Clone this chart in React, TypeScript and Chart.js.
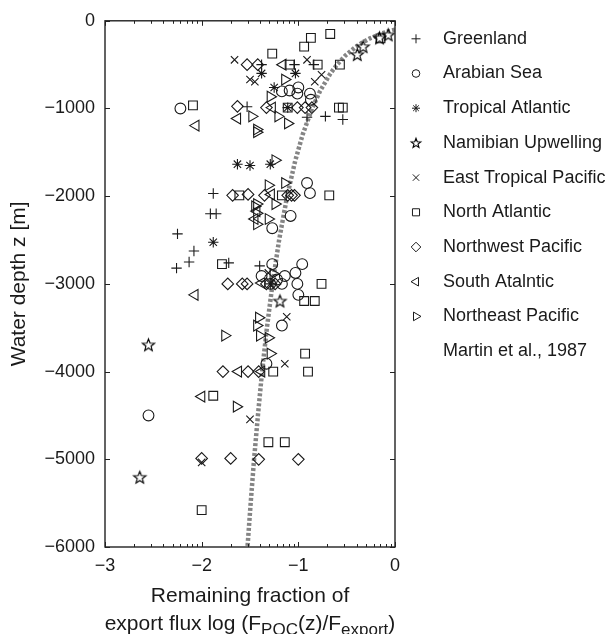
import React, { useEffect, useRef } from 'react';
import { Chart, registerables } from 'chart.js';
import { drawPoint } from 'chart.js/helpers';

Chart.register(...registerables);

type Pt = [number, number];

// x = log10(F_POC(z)/F_export), y = water depth z [m]
const greenland: Pt[] = [
  [-1.38, -500], [-1.04, -500], [-0.84, -500], [-1.53, -980], [-0.91, -1100], [-0.72, -1090],
  [-0.54, -1125], [-1.88, -1970], [-1.91, -2200], [-1.85, -2200], [-2.25, -2430], [-2.08, -2625],
  [-2.13, -2750], [-2.26, -2820], [-1.72, -2760], [-1.40, -2795],
];
const arabianSea: Pt[] = [
  [-2.22, -1000], [-1.17, -805], [-1.09, -795], [-1.00, -760], [-1.01, -830], [-0.88, -830],
  [-0.87, -900], [-0.91, -1850], [-0.88, -1965], [-1.08, -2225], [-1.27, -2365], [-1.27, -2775],
  [-0.96, -2775], [-1.03, -2875], [-1.38, -2910], [-1.14, -2910], [-1.22, -2950], [-1.29, -3000],
  [-1.17, -3000], [-1.01, -3000], [-1.00, -3125], [-1.17, -3475], [-1.33, -3910], [-2.55, -4500],
];
const tropicalAtlantic: Pt[] = [
  [-1.38, -600], [-1.03, -600], [-1.25, -760], [-1.11, -990], [-1.63, -1635], [-1.50, -1650],
  [-1.29, -1635], [-1.88, -2525], [-1.29, -3000],
];
const namibianUpwelling: Pt[] = [
  [-0.07, -160], [-0.16, -195], [-0.33, -295], [-0.39, -385], [-1.19, -3195], [-2.55, -3695],
  [-2.64, -5205],
];
const eastTropicalPacific: Pt[] = [
  [-1.66, -445], [-0.91, -445], [-1.50, -670], [-1.45, -695], [-0.83, -695], [-0.76, -615],
  [-1.31, -2875], [-1.12, -3375], [-1.14, -3910], [-1.50, -4545], [-2.00, -5035],
];
const northAtlantic: Pt[] = [
  [-0.67, -150], [-0.87, -195], [-0.94, -295], [-0.15, -200], [-1.27, -375], [-1.09, -500],
  [-0.80, -500], [-0.57, -500], [-2.09, -965], [-0.58, -990], [-0.54, -990], [-1.11, -990],
  [-1.61, -1990], [-1.17, -1990], [-0.68, -1990], [-1.79, -2775], [-0.76, -3000], [-0.94, -3195],
  [-0.83, -3195], [-0.93, -3795], [-1.26, -4000], [-0.90, -4000], [-1.88, -4275], [-1.31, -4805],
  [-1.14, -4805], [-2.00, -5580],
];
const northwestPacific: Pt[] = [
  [-1.53, -500], [-1.42, -500], [-1.63, -975], [-1.33, -990], [-1.01, -990], [-0.93, -990],
  [-0.86, -990], [-1.68, -1990], [-1.52, -1980], [-1.35, -1990], [-1.11, -1990], [-1.07, -1990],
  [-1.04, -1990], [-1.73, -3000], [-1.58, -3000], [-1.53, -3000], [-1.33, -3000], [-1.24, -3000],
  [-1.78, -4000], [-1.52, -4000], [-1.41, -4000], [-2.00, -4990], [-1.70, -4990], [-1.41, -5000],
  [-1.00, -5000],
];
const southAtlantic: Pt[] = [
  [-1.16, -500], [-2.06, -1195], [-1.63, -1115], [-1.27, -990], [-1.28, -1980], [-1.43, -2170],
  [-1.45, -2260], [-1.38, -2990], [-2.07, -3125], [-1.62, -4000], [-1.38, -4000], [-2.00, -4285],
];
const northeastPacific: Pt[] = [
  [-1.14, -670], [-1.29, -865], [-1.48, -1090], [-1.21, -1090], [-1.11, -1170], [-1.43, -1240],
  [-1.43, -1270], [-1.24, -1590], [-1.31, -1875], [-1.14, -1850], [-1.45, -2115], [-1.43, -2090],
  [-1.24, -2090], [-1.43, -2195], [-1.43, -2320], [-1.31, -2260], [-1.26, -2885], [-1.41, -3385],
  [-1.43, -3475], [-1.40, -3590], [-1.31, -3615], [-1.76, -3590], [-1.29, -3795], [-1.64, -4400],
];
// Martin et al., 1987 curve
const martinCurve: Pt[] = [
  [0, -100], [-0.068, -120], [-0.151, -150], [-0.258, -200], [-0.341, -250], [-0.409, -300],
  [-0.517, -400], [-0.6, -500], [-0.668, -600], [-0.775, -800], [-0.858, -1000], [-0.956, -1300],
  [-1.033, -1600], [-1.116, -2000], [-1.199, -2500], [-1.267, -3000], [-1.325, -3500],
  [-1.375, -4000], [-1.418, -4500], [-1.458, -5000], [-1.493, -5500], [-1.526, -6000],
];

const seriesLabels = [
  'Greenland', 'Arabian Sea', 'Tropical Atlantic', 'Namibian Upwelling', 'East Tropical Pacific',
  'North Atlantic', 'Northwest Pacific', 'South Atalntic', 'Northeast Pacific',
];
const seriesData = [
  greenland, arabianSea, tropicalAtlantic, namibianUpwelling, eastTropicalPacific,
  northAtlantic, northwestPacific, southAtlantic, northeastPacific,
];
const martinLabel = 'Martin et al., 1987';

const xTicks = [-3, -2, -1, 0];
const yTicks = [0, -1000, -2000, -3000, -4000, -5000, -6000];

const FONT = "'Liberation Sans', Arial, Helvetica, sans-serif";
const INK = '#1a1a1a';

function makeStar(outer: number, inner: number): HTMLCanvasElement {
  const size = Math.ceil(outer * 2 + 4);
  const c = document.createElement('canvas');
  c.width = size;
  c.height = size;
  const ctx = c.getContext('2d')!;
  const cx = size / 2;
  const cy = size / 2 + 0.5;
  ctx.beginPath();
  for (let i = 0; i < 10; i++) {
    const r = i % 2 === 0 ? outer : inner;
    const a = -Math.PI / 2 + (i * Math.PI) / 5;
    const px = cx + r * Math.cos(a);
    const py = cy + r * Math.sin(a);
    if (i === 0) ctx.moveTo(px, py);
    else ctx.lineTo(px, py);
  }
  ctx.closePath();
  ctx.strokeStyle = '#000';
  ctx.lineWidth = 1.15;
  ctx.stroke();
  return c;
}

function fmt(v: number | string): string {
  const n = Number(v);
  return n < 0 ? '\u2212' + Math.abs(n) : String(n);
}

export default function App() {
  const ref = useRef<HTMLCanvasElement>(null);

  useEffect(() => {
    if (!ref.current) return;
    const starBig = makeStar(6.4, 2.7);
    const starSmall = makeStar(5, 2.1);

    const styles: { style: any; legendStyle: any; rot: number; r: number; lr: number }[] = [
      { style: 'cross', legendStyle: 'cross', rot: 0, r: 5.2, lr: 4.5 },
      { style: 'circle', legendStyle: 'circle', rot: 0, r: 5.4, lr: 3.8 },
      { style: 'star', legendStyle: 'star', rot: 0, r: 5.2, lr: 4 },
      { style: starBig, legendStyle: starSmall, rot: 0, r: 6, lr: 4 },
      { style: 'crossRot', legendStyle: 'crossRot', rot: 0, r: 5.2, lr: 4.5 },
      { style: 'rect', legendStyle: 'rect', rot: 0, r: 6.2, lr: 5 },
      { style: 'rectRot', legendStyle: 'rectRot', rot: 0, r: 5.8, lr: 4.8 },
      { style: 'triangle', legendStyle: 'triangle', rot: -90, r: 6.2, lr: 5 },
      { style: 'triangle', legendStyle: 'triangle', rot: 90, r: 6.2, lr: 5 },
    ];

    const datasets: any[] = seriesData.map((pts, i) => ({
      label: seriesLabels[i],
      data: pts.map(([x, y]) => ({ x, y })),
      pointStyle: styles[i].style,
      pointRotation: styles[i].rot,
      pointRadius: styles[i].r,
      pointBorderWidth: 1.1,
      borderColor: INK,
      backgroundColor: 'rgba(0,0,0,0)',
      showLine: false,
    }));
    datasets.push({
      label: martinLabel,
      data: martinCurve.map(([x, y]) => ({ x, y })),
      showLine: true,
      borderColor: '#858585',
      borderWidth: 4.5,
      borderDash: [3, 2],
      borderCapStyle: 'butt',
      pointRadius: 0,
      fill: false,
      tension: 0,
    });

    const framePlugin = {
      id: 'frame',
      afterDraw(chart: any) {
        const ctx = chart.ctx as CanvasRenderingContext2D;
        const { left, right, top, bottom } = chart.chartArea;
        const xs = chart.scales.x;
        const ys = chart.scales.y;
        ctx.save();
        ctx.strokeStyle = '#222';
        ctx.lineWidth = 1.4;
        ctx.strokeRect(left, top, right - left, bottom - top);
        ctx.lineWidth = 1;
        ctx.beginPath();
        for (const v of yTicks) {
          const py = Math.round(ys.getPixelForValue(v)) + 0.5;
          ctx.moveTo(left, py); ctx.lineTo(left + 5, py);
          ctx.moveTo(right, py); ctx.lineTo(right - 5, py);
        }
        for (const v of xTicks) {
          const px = Math.round(xs.getPixelForValue(v)) + 0.5;
          ctx.moveTo(px, bottom); ctx.lineTo(px, bottom - 5);
          ctx.moveTo(px, top); ctx.lineTo(px, top + 5);
        }
        for (let d = -3; d < 0; d++) {
          for (let m = 2; m <= 9; m++) {
            const px = Math.round(xs.getPixelForValue(d + Math.log10(m))) + 0.5;
            ctx.moveTo(px, bottom); ctx.lineTo(px, bottom - 3);
            ctx.moveTo(px, top); ctx.lineTo(px, top + 3);
          }
        }
        ctx.stroke();

        // Legend
        const lx = right + 21;
        const tx = right + 48;
        const ly0 = top + 18;
        const step = 34.7;
        ctx.font = `18px ${FONT}`;
        ctx.textBaseline = 'middle';
        ctx.textAlign = 'left';
        for (let i = 0; i < seriesLabels.length; i++) {
          const y = ly0 + i * step;
          ctx.strokeStyle = INK;
          ctx.fillStyle = 'rgba(0,0,0,0)';
          ctx.lineWidth = 1;
          drawPoint(ctx, {
            pointStyle: styles[i].legendStyle,
            rotation: styles[i].rot,
            radius: styles[i].lr,
            borderWidth: 1,
          } as any, lx, y);
          ctx.fillStyle = INK;
          ctx.fillText(seriesLabels[i], tx, y);
        }
        ctx.fillStyle = INK;
        ctx.fillText(martinLabel, tx, ly0 + seriesLabels.length * step);

        // X title
        const cx = (left + right) / 2;
        ctx.textAlign = 'center';
        ctx.font = `21px ${FONT}`;
        ctx.fillText('Remaining fraction of', cx, bottom + 49);
        const parts: { t: string; sub: boolean }[] = [
          { t: 'export flux log (F', sub: false },
          { t: 'POC', sub: true },
          { t: '(z)/F', sub: false },
          { t: 'export', sub: true },
          { t: ')', sub: false },
        ];
        const mainFont = `21px ${FONT}`;
        const subFont = `17px ${FONT}`;
        let total = 0;
        for (const p of parts) {
          ctx.font = p.sub ? subFont : mainFont;
          total += ctx.measureText(p.t).width;
        }
        let x = cx - total / 2;
        const by = bottom + 77;
        ctx.textAlign = 'left';
        for (const p of parts) {
          ctx.font = p.sub ? subFont : mainFont;
          ctx.fillText(p.t, x, p.sub ? by + 6 : by);
          x += ctx.measureText(p.t).width;
        }

        // Y title
        ctx.save();
        ctx.translate(19, (top + bottom) / 2);
        ctx.rotate(-Math.PI / 2);
        ctx.textAlign = 'center';
        ctx.font = `21px ${FONT}`;
        ctx.fillText('Water depth z [m]', 0, 0);
        ctx.restore();

        ctx.restore();
      },
    };

    const chart = new Chart(ref.current, {
      type: 'scatter',
      data: { datasets },
      options: {
        animation: false,
        responsive: false,
        devicePixelRatio: 1,
        layout: { padding: { top: 19, right: 216, left: 0, bottom: 0 } },
        plugins: { legend: { display: false }, tooltip: { enabled: false } },
        scales: {
          x: {
            type: 'linear',
            min: -3,
            max: 0,
            afterFit: (s: any) => { s.height = 87; },
            grid: { display: false, drawTicks: false },
            border: { display: false },
            ticks: {
              stepSize: 1,
              padding: 8,
              autoSkip: false,
              maxRotation: 0,
              color: INK,
              font: { size: 18, family: FONT },
              callback: (v: any) => fmt(v),
            },
          },
          y: {
            type: 'linear',
            min: -6000,
            max: 0,
            afterFit: (s: any) => { s.width = 105; },
            grid: { display: false, drawTicks: false },
            border: { display: false },
            ticks: {
              stepSize: 1000,
              padding: 10,
              autoSkip: false,
              color: INK,
              font: { size: 18, family: FONT },
              callback: (v: any) => fmt(v),
            },
          },
        },
      } as any,
      plugins: [framePlugin],
    });
    return () => chart.destroy();
  }, []);

  return (
    <div style={{ position: 'fixed', left: 0, top: 0, width: 611, height: 634, background: '#fff' }}>
      <canvas ref={ref} width={611} height={634} style={{ display: 'block' }} />
    </div>
  );
}
